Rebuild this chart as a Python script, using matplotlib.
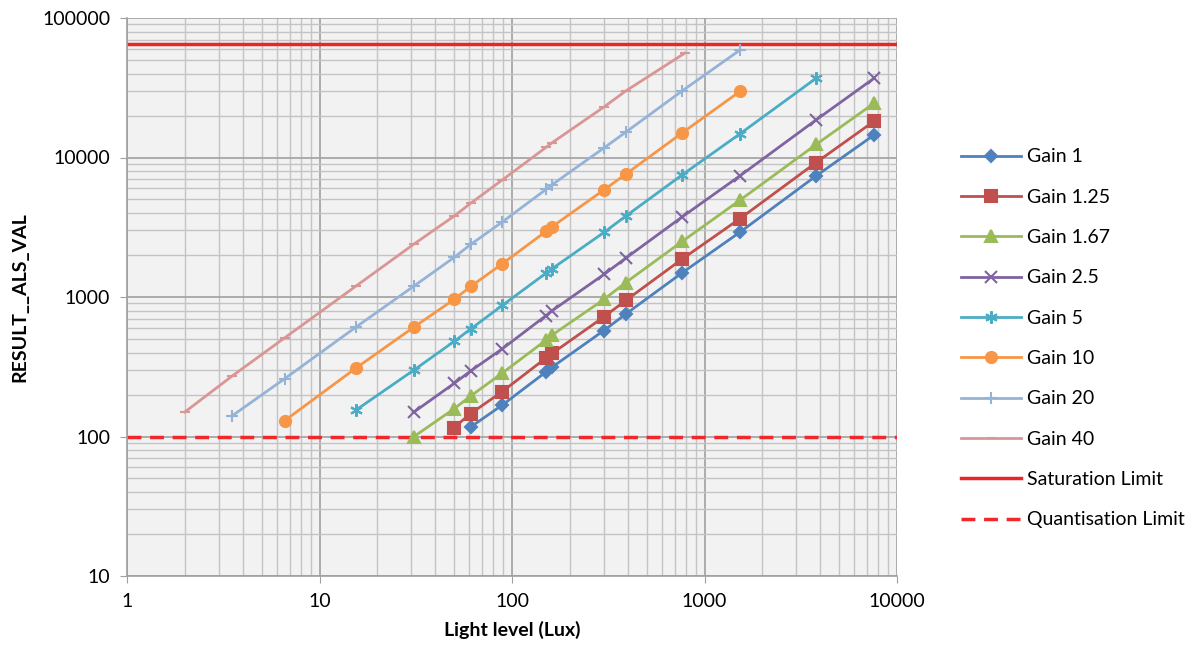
import numpy as np
import matplotlib
matplotlib.use("Agg")
import matplotlib.pyplot as plt
from matplotlib.ticker import LogLocator, FuncFormatter, NullFormatter

plt.rcParams['font.family'] = ['Lato', 'DejaVu Sans']

# values (lux, RESULT__ALS_VAL)
gain1_x = [61, 89, 150, 162, 300, 390, 765, 1530, 3800, 7600]
gain1_y = [117, 168, 290, 315, 575, 755, 1490, 2920, 7380, 14500]
gain125_x = [50, 61, 89, 150, 162, 300, 390, 765, 1530, 3800, 7600]
gain125_y = [116, 146, 210, 365, 395, 720, 945, 1870, 3650, 9200, 18200]
gain167_x = [31, 50, 61, 89, 150, 162, 300, 390, 765, 1530, 3800, 7600]
gain167_y = [100, 158, 195, 285, 490, 535, 960, 1270, 2500, 4950, 12400, 24500]
gain25_x = [31, 50, 61, 89, 150, 162, 300, 390, 765, 1530, 3800, 7600]
gain25_y = [150, 240, 295, 425, 735, 800, 1450, 1900, 3750, 7400, 18600, 37000]
gain5_x = [15.5, 31, 50, 61, 89, 150, 162, 300, 390, 765, 1530, 3800]
gain5_y = [155, 300, 480, 590, 870, 1480, 1600, 2900, 3800, 7500, 14800, 37000]
gain10_x = [6.6, 15.5, 31, 50, 61, 89, 150, 162, 300, 390, 765, 1530]
gain10_y = [130, 310, 610, 960, 1190, 1730, 2950, 3200, 5850, 7600, 15000, 29800]
gain20_x = [3.5, 6.6, 15.5, 31, 50, 61, 89, 150, 162, 300, 390, 765, 1530]
gain20_y = [140, 260, 610, 1200, 1920, 2380, 3450, 5900, 6400, 11700, 15200, 30000, 59000]
gain40_x = [2, 3.5, 6.6, 15.5, 31, 50, 61, 89, 150, 162, 300, 390, 790]
gain40_y = [150, 270, 510, 1200, 2400, 3800, 4700, 6900, 11800, 12800, 23000, 30000, 56000]

saturation_limit = 65535
quantisation_limit = 100

fig = plt.figure(figsize=(12, 6.59), dpi=100)
ax = fig.add_axes([127/1200, 1 - 576/659, (897-127)/1200, (576-18)/659])
ax.set_facecolor('#F2F2F2')

# series: (x, y, label, colour, marker, size)
series = [
    (gain1_x, gain1_y, 'Gain 1', '#4F81BD', 'D', 6),
    (gain125_x, gain125_y, 'Gain 1.25', '#C0504D', 's', 8),
    (gain167_x, gain167_y, 'Gain 1.67', '#9BBB59', '^', 8),
    (gain25_x, gain25_y, 'Gain 2.5', '#8064A2', 'x', 8),
    (gain5_x, gain5_y, 'Gain 5', '#4BACC6', (6, 2, 0), 9),
    (gain10_x, gain10_y, 'Gain 10', '#F79646', 'o', 8),
    (gain20_x, gain20_y, 'Gain 20', '#95B3D7', '+', 8),
    (gain40_x, gain40_y, 'Gain 40', '#D99694', '_', 7),
]
for x, y, lab, col, mk, ms in series:
    ax.plot(x, y, color=col, lw=2, marker=mk, ms=ms, mec=col, mfc=col,
            mew=1.5, label=lab, zorder=3)

ax.axhline(saturation_limit, color='#E8262A', lw=2.5, label='Saturation Limit', zorder=2)
ax.axhline(quantisation_limit, color='#F0282C', lw=2.5, ls=(0, (4, 2.5)),
           label='Quantisation Limit', zorder=2)

ax.set_xscale('log')
ax.set_yscale('log')
ax.set_xlim(1, 10000)
ax.set_ylim(10, 100000)

ax.xaxis.set_minor_locator(LogLocator(base=10, subs=np.arange(2, 10)))
ax.yaxis.set_minor_locator(LogLocator(base=10, subs=np.arange(2, 10)))
ax.xaxis.set_minor_formatter(NullFormatter())
ax.yaxis.set_minor_formatter(NullFormatter())
fmt = FuncFormatter(lambda v, p: '%d' % round(v))
ax.xaxis.set_major_formatter(fmt)
ax.yaxis.set_major_formatter(fmt)

ax.grid(which='major', color='#A0A0A0', lw=1.2)
ax.grid(which='minor', color='#C4C4C4', lw=1.0)
ax.set_axisbelow(True)

for s in ['top', 'right']:
    ax.spines[s].set_visible(False)
for s in ['left', 'bottom']:
    ax.spines[s].set_color('#A0A0A0')
    ax.spines[s].set_linewidth(1.2)

ax.tick_params(which='major', length=5, color='#A0A0A0', labelsize=14, pad=7)
ax.tick_params(which='minor', length=0)

ax.set_xlabel('Light level (Lux)', fontsize=14, fontweight='bold', labelpad=8)
ax.set_ylabel('RESULT__ALS_VAL', fontsize=14, fontweight='bold', labelpad=10)

ax.legend(loc='upper left', bbox_to_anchor=(943/1200, 1 - 131/659),
          bbox_transform=fig.transFigure, frameon=False, fontsize=14,
          handlelength=3.1, labelspacing=1.2, handletextpad=0.3)

plt.savefig('out.png', dpi=100)
